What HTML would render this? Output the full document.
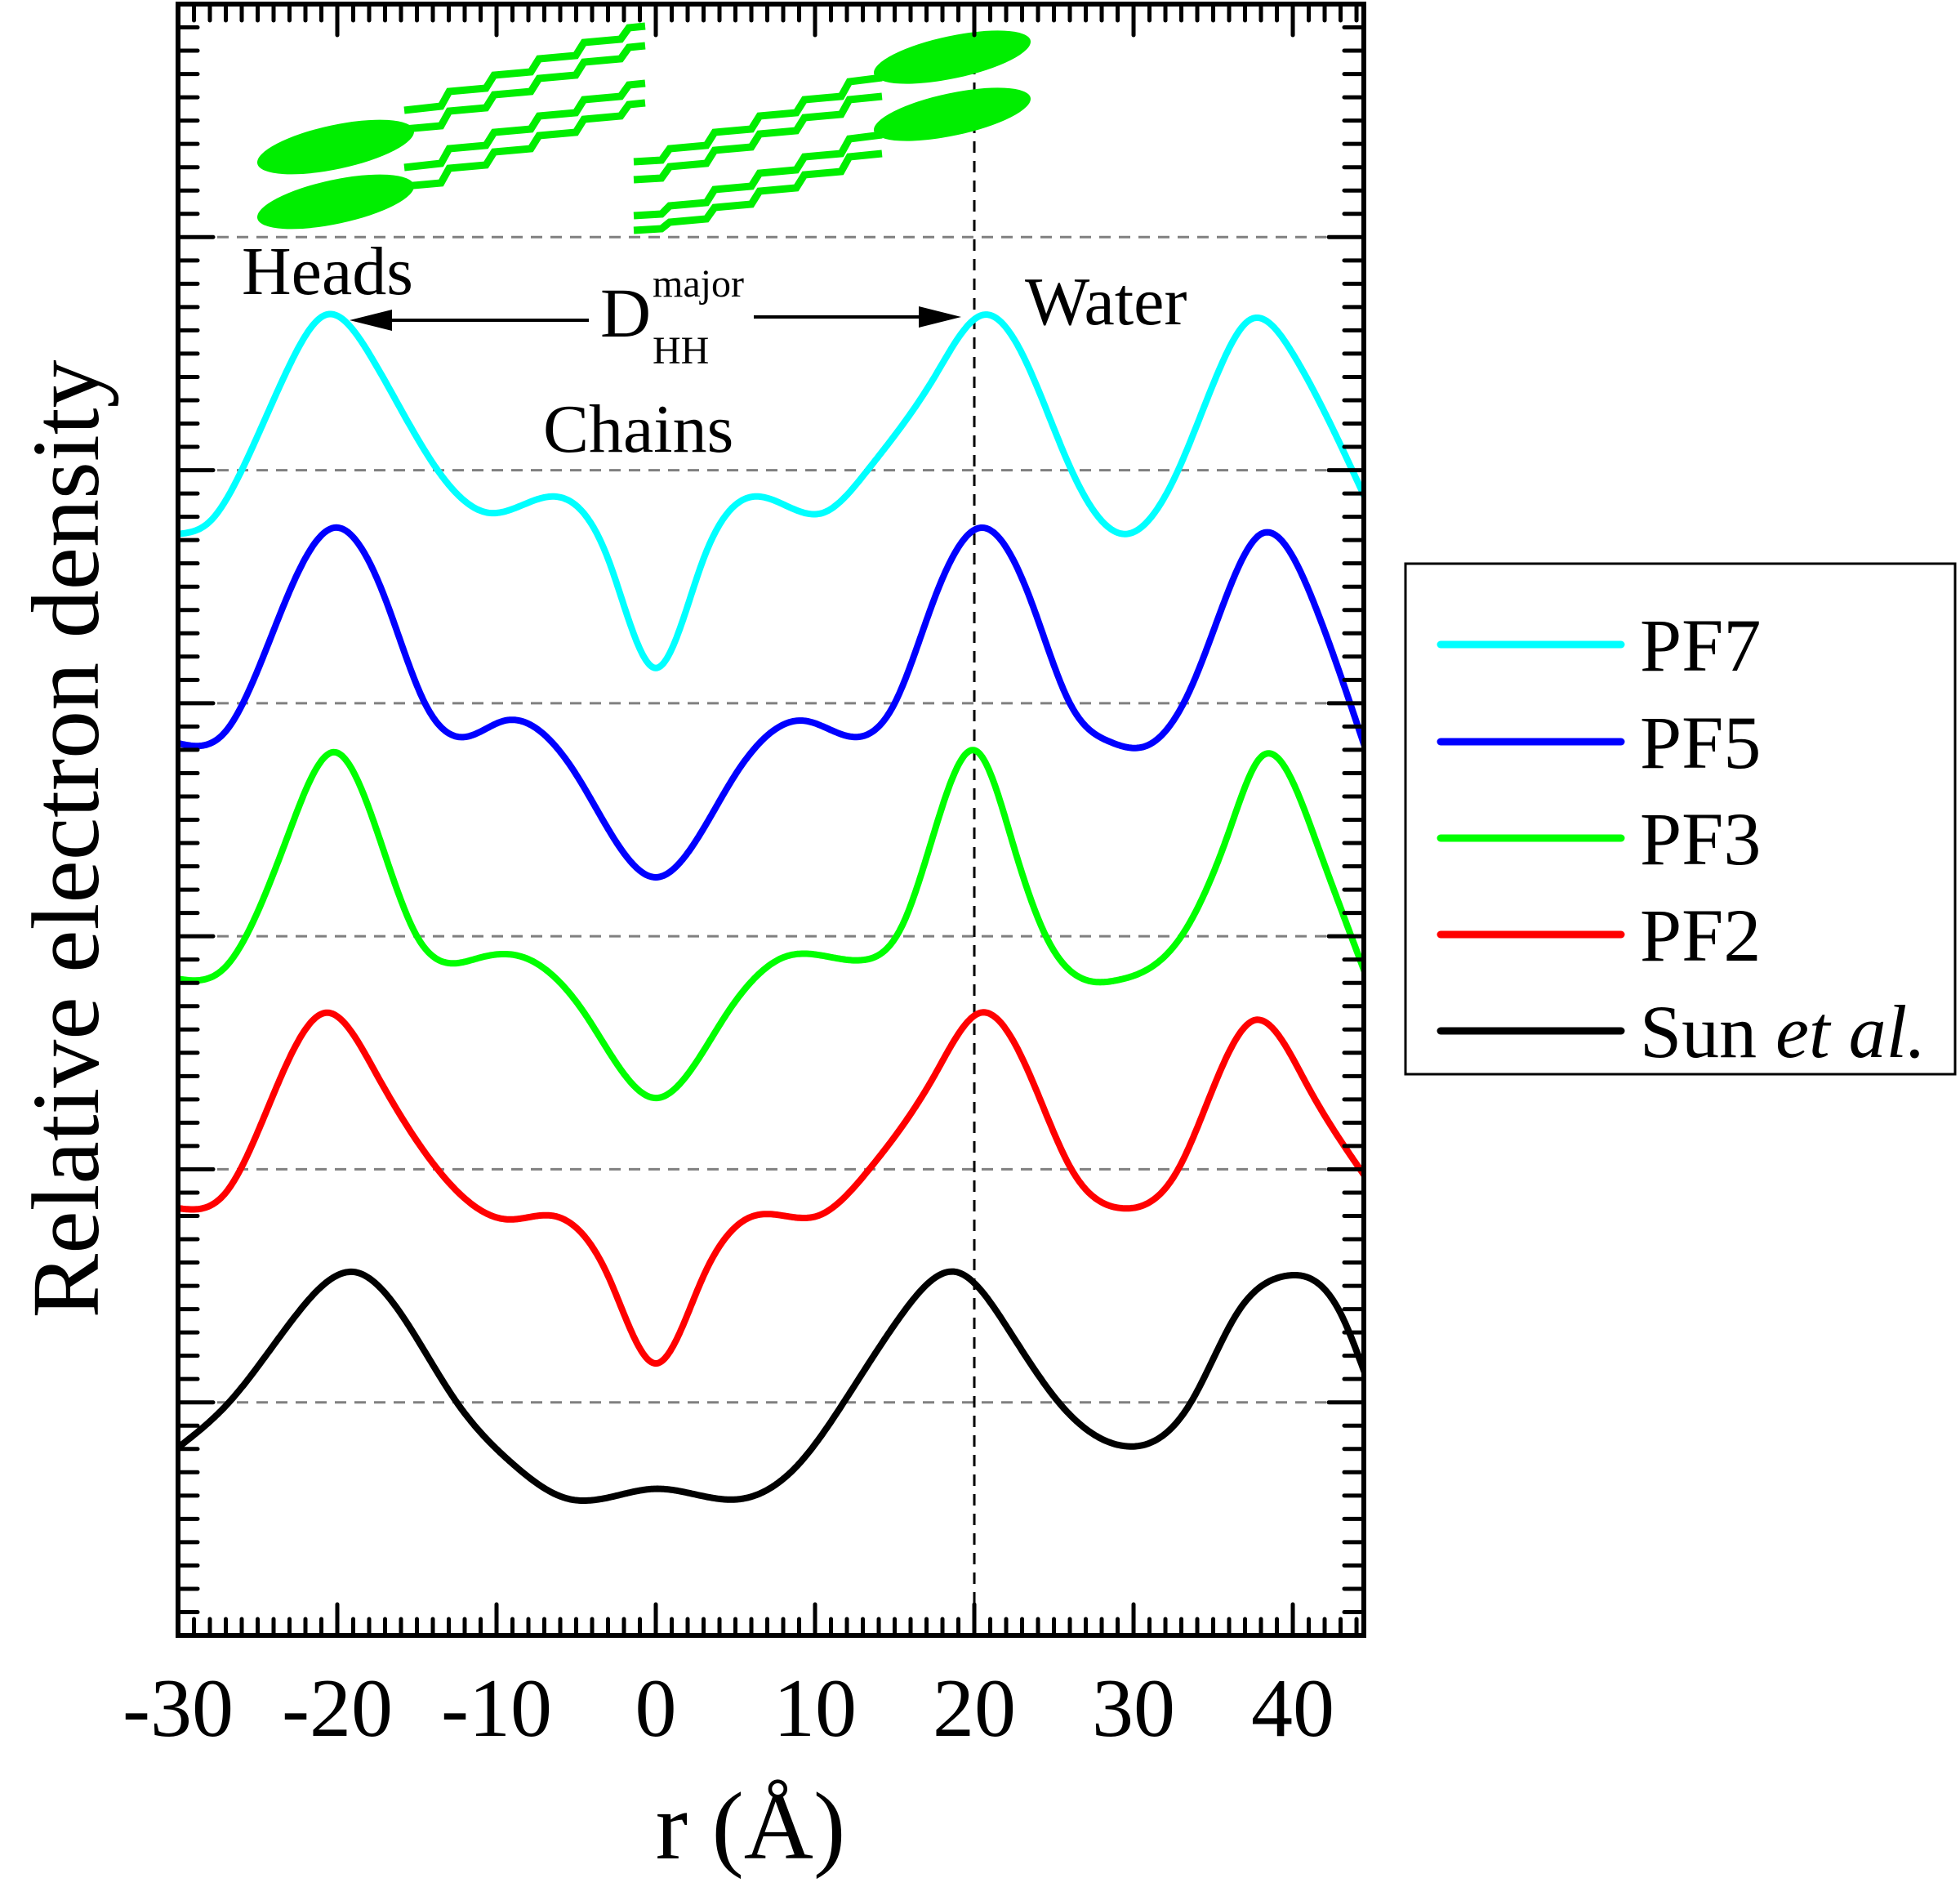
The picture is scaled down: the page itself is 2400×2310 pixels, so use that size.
<!DOCTYPE html>
<html><head><meta charset="utf-8">
<style>
html,body{margin:0;padding:0;background:#fff;}
svg{display:block;}
text{font-family:"Liberation Serif","Times New Roman",serif;fill:#000;}
</style></head>
<body>
<svg id="chart" xmlns="http://www.w3.org/2000/svg" width="2400" height="2310" viewBox="0 0 2400 2310">
  <defs><clipPath id="plotclip"><rect x="218" y="5" width="1452" height="1997"/></clipPath></defs>
  <g id="grid"></g>
  <g id="cartoon" fill="#00ee00" stroke="#00ee00">
    <ellipse cx="411" cy="180" rx="98" ry="27" transform="rotate(-12 411 180)" stroke="none"/>
    <ellipse cx="411" cy="247" rx="98" ry="27" transform="rotate(-12 411 247)" stroke="none"/>
    <ellipse cx="1166" cy="70" rx="98" ry="26" transform="rotate(-12 1166 70)" stroke="none"/>
    <ellipse cx="1166" cy="140" rx="98" ry="26" transform="rotate(-12 1166 140)" stroke="none"/>
    <g fill="none" stroke-width="9">
      <polyline points="495,135 540,130 550,112 595,108 605,92 650,88 660,72 705,68 715,52 760,48 770,34 790,32"/>
      <polyline points="495,158 540,154 550,136 595,132 605,116 650,112 660,96 705,92 715,76 760,72 770,58 790,56"/>
      <polyline points="495,205 540,200 550,182 595,178 605,162 650,158 660,142 705,138 715,122 760,118 770,104 790,102"/>
      <polyline points="495,228 540,224 550,206 595,202 605,186 650,182 660,166 705,162 715,146 760,142 770,128 790,126"/>
      <polyline points="1080,95 1040,100 1030,118 985,122 975,138 930,142 920,158 875,162 865,178 820,182 810,196 776,198"/>
      <polyline points="1080,118 1040,122 1030,140 985,144 975,160 930,164 920,180 875,184 865,200 820,204 810,218 776,220"/>
      <polyline points="1080,165 1040,170 1030,188 985,192 975,208 930,212 920,228 875,232 865,248 820,252 810,262 776,264"/>
      <polyline points="1080,188 1040,192 1030,210 985,214 975,230 930,234 920,250 875,254 865,268 820,272 810,280 776,282"/>
    </g>
  </g>
  <g id="series" clip-path="url(#plotclip)"></g>
  <g id="axes"></g>
  <rect x="218" y="5" width="1452" height="1997" fill="none" stroke="#000" stroke-width="6"/>

  <text x="296" y="360" font-size="84">Heads</text>
  <text x="1255" y="397" font-size="84">Water</text>
  <text x="665" y="553" font-size="84">Chains</text>
  <text x="735" y="412" font-size="86">D</text>
  <text x="799" y="363" font-size="48">major</text>
  <text x="799" y="445" font-size="48">HH</text>
  <line x1="470" y1="392" x2="721" y2="392" stroke="#000" stroke-width="4"/>
  <polygon points="428,392 480,379 480,405" fill="#000"/>
  <line x1="923" y1="388" x2="1135" y2="388" stroke="#000" stroke-width="4"/>
  <polygon points="1177,388 1125,375 1125,401" fill="#000"/>

  <text x="919" y="2275" font-size="118" text-anchor="middle">r (Å)</text>
  <text transform="translate(120,1027) rotate(-90)" font-size="118" text-anchor="middle">Relative electron density</text>

  <g>
    <rect x="1721" y="690" width="673" height="625" fill="#fff" stroke="#000" stroke-width="3"/>
    <g id="legend-items"></g>
  </g>
</svg>
<script>
const categoriesX = [-30,-20,-10,0,10,20,30,40];
const xTickLabels = ["-30","-20","-10","0","10","20","30","40"];
const seriesNames = ["PF7","PF5","PF3","PF2","Sun"];
const seriesColors = ["#00ffff","#0000ff","#00ff00","#ff0000","#000000"];
const pf7X = [-30,-28,-26,-23,-20.7,-18,-13.7,-10.5,-6.5,-3,0,3,6.2,10.5,13.3,17.5,20.6,23,26.1,29.5,32.8,35.5,37.3,40,44.5];
const pf7V = [4.726,4.78,5.0,5.45,5.667,5.5,5.0,4.817,4.887,4.62,4.151,4.62,4.887,4.817,5.0,5.40,5.667,5.5,5.0,4.726,5.0,5.45,5.645,5.5,4.887];
const pf5X = [-30,-27,-23,-20.2,-17,-14.5,-12,-9.5,-5,0,5,9.3,12.5,15,17.5,20.4,23.5,26,28.5,31,33.5,35.5,38,41.5,44.5];
const pf5V = [3.828,3.88,4.48,4.753,4.45,4.0,3.855,3.925,3.694,3.253,3.694,3.925,3.855,4.0,4.45,4.753,4.45,4.0,3.835,3.823,4.05,4.40,4.726,4.40,3.817];
const pf3X = [-30,-27,-23,-20.2,-17.5,-15,-11,-8.5,-4.5,0,4.5,8.2,13,15.5,17.5,20.1,22.5,24.5,29,33,36,38,41.5,44.5];
const pf3V = [2.817,2.87,3.45,3.790,3.45,3.0,2.909,2.914,2.672,2.306,2.672,2.914,2.898,3.05,3.45,3.796,3.38,3.0,2.812,3.0,3.45,3.769,3.40,2.849];
const pf2X = [-30,-27,-23.5,-20.7,-17.5,-13.7,-9.3,-6.5,-3,0,3,6.2,10.2,13.4,17.5,20.4,23.5,26.1,29.3,32.8,35,37.6,41,44.5];
const pf2V = [1.833,1.9,2.403,2.672,2.403,2.0,1.785,1.801,1.543,1.167,1.543,1.801,1.801,2.0,2.403,2.672,2.403,2.0,1.833,2.0,2.349,2.640,2.349,1.973];
const sunX = [-30,-26.8,-22.5,-18.9,-15.5,-12.5,-9,-5.5,0,5.4,9,11.8,15.5,18.9,22,25.3,29.5,33.6,36.5,39.6,43,44.5];
const sunV = [0.806,1.0,1.382,1.559,1.328,1.0,0.737,0.586,0.629,0.586,0.737,1.0,1.382,1.559,1.328,1.0,0.812,1.0,1.382,1.543,1.382,1.129];

const NS = "http://www.w3.org/2000/svg";
const X0 = 218, X1 = 1670, Y0 = 2002, Y1 = 5;
const xMin = -30, xMax = 44.46, yMin = 0, yMax = 7;
function xs(v){ return X0 + (v - xMin) / (xMax - xMin) * (X1 - X0); }
function ys(v){ return Y0 - (v - yMin) / (yMax - yMin) * (Y0 - Y1); }
function mk(tag, attrs, parent){
  const e = document.createElementNS(NS, tag);
  for (const k in attrs) e.setAttribute(k, attrs[k]);
  parent.appendChild(e);
  return e;
}
const grid = document.getElementById('grid');
const axes = document.getElementById('axes');
const series = document.getElementById('series');

for (let v = 1; v < 7; v++) {
  const l = mk('line', {x1: X0, x2: X1, y1: ys(v), y2: ys(v), stroke: '#808080', 'stroke-width': 3, 'stroke-dasharray': '14 10'}, grid);
  
  
}
const vl = mk('line', {x1: xs(20), x2: xs(20), y1: Y1, y2: Y0, stroke: '#000', 'stroke-width': 3, 'stroke-dasharray': '14 10'}, grid);



for (let v = -30; v <= 44; v++) {
  const major = (v % 10 === 0);
  const len = major ? 38 : 20;
  const x = xs(v);
  const t1 = mk('line', {x1: x, x2: x, y1: Y0, y2: Y0 - len, stroke: '#000', 'stroke-width': 5, 'stroke-linecap': 'round'}, axes);
  
  
  const t2 = mk('line', {x1: x, x2: x, y1: Y1, y2: Y1 + len, stroke: '#000', 'stroke-width': 5, 'stroke-linecap': 'round'}, axes);
  
  
}
categoriesX.forEach((v, i) => {
  const t = mk('text', {x: xs(v), y: 2125, 'font-size': 102, 'text-anchor': 'middle'}, axes);
  t.textContent = xTickLabels[i];
  
  
});
for (let k = 0; k <= 70; k++) {
  const major = (k % 10 === 0);
  const len = major ? 43 : 24;
  const y = ys(k / 10);
  const t1 = mk('line', {x1: X0, x2: X0 + len, y1: y, y2: y, stroke: '#000', 'stroke-width': 5, 'stroke-linecap': 'round'}, axes);
  
  
  const t2 = mk('line', {x1: X1, x2: X1 - len, y1: y, y2: y, stroke: '#000', 'stroke-width': 5, 'stroke-linecap': 'round'}, axes);
  
  
}

function splinePath(X, V){
  const n = X.length, h = [], a = new Array(n).fill(0), b = new Array(n).fill(0), c = new Array(n).fill(0), r = new Array(n).fill(0);
  for (let i = 0; i < n - 1; i++) h.push(X[i+1] - X[i]);
  b[0] = 1; b[n-1] = 1;
  for (let i = 1; i < n - 1; i++) {
    a[i] = h[i-1]; b[i] = 2*(h[i-1] + h[i]); c[i] = h[i];
    r[i] = 6*((V[i+1]-V[i])/h[i] - (V[i]-V[i-1])/h[i-1]);
  }
  for (let i = 1; i < n; i++) { const w = a[i] / b[i-1]; b[i] -= w*c[i-1]; r[i] -= w*r[i-1]; }
  const M = new Array(n).fill(0);
  M[n-1] = r[n-1] / b[n-1];
  for (let i = n - 2; i >= 0; i--) M[i] = (r[i] - c[i]*M[i+1]) / b[i];
  let p = '';
  for (let i = 0; i < n - 1; i++) {
    const steps = Math.max(4, Math.ceil(h[i] * 10));
    for (let s = (i === 0 ? 0 : 1); s <= steps; s++) {
      const t = s / steps, x = X[i] + t*h[i];
      const A = 1 - t, B = t;
      const v = A*V[i] + B*V[i+1] + ((A*A*A - A)*M[i] + (B*B*B - B)*M[i+1]) * h[i]*h[i] / 6;
      p += (p ? 'L' : 'M') + xs(x).toFixed(1) + ',' + ys(v).toFixed(1);
    }
  }
  return p;
}
const allX = [pf7X, pf5X, pf3X, pf2X, sunX];
const allV = [pf7V, pf5V, pf3V, pf2V, sunV];
const curveNames = ['pf7-curve','pf5-curve','pf3-curve','pf2-curve','sun-et-al-curve'];
for (let i = 4; i >= 0; i--) {
  const path = mk('path', {d: splinePath(allX[i], allV[i]), fill: 'none', stroke: seriesColors[i], 'stroke-width': 8, 'stroke-linejoin': 'round'}, series);
  
  
}

const li = document.getElementById('legend-items');
const legendY = [789, 908, 1026, 1144, 1262];
seriesNames.forEach((nm, i) => {
  const g = mk('g', {}, li);
  
  
  mk('line', {x1: 1764, x2: 1985, y1: legendY[i], y2: legendY[i], stroke: seriesColors[i], 'stroke-width': 9, 'stroke-linecap': 'round'}, g);
  const t = mk('text', {x: 2008, y: legendY[i] + 32, 'font-size': 92}, g);
  if (nm === 'Sun') {
    t.textContent = 'Sun ';
    const it = mk('tspan', {'font-style': 'italic'}, t);
    it.textContent = 'et al.';
  } else t.textContent = nm;
});
</script>
</body></html>
